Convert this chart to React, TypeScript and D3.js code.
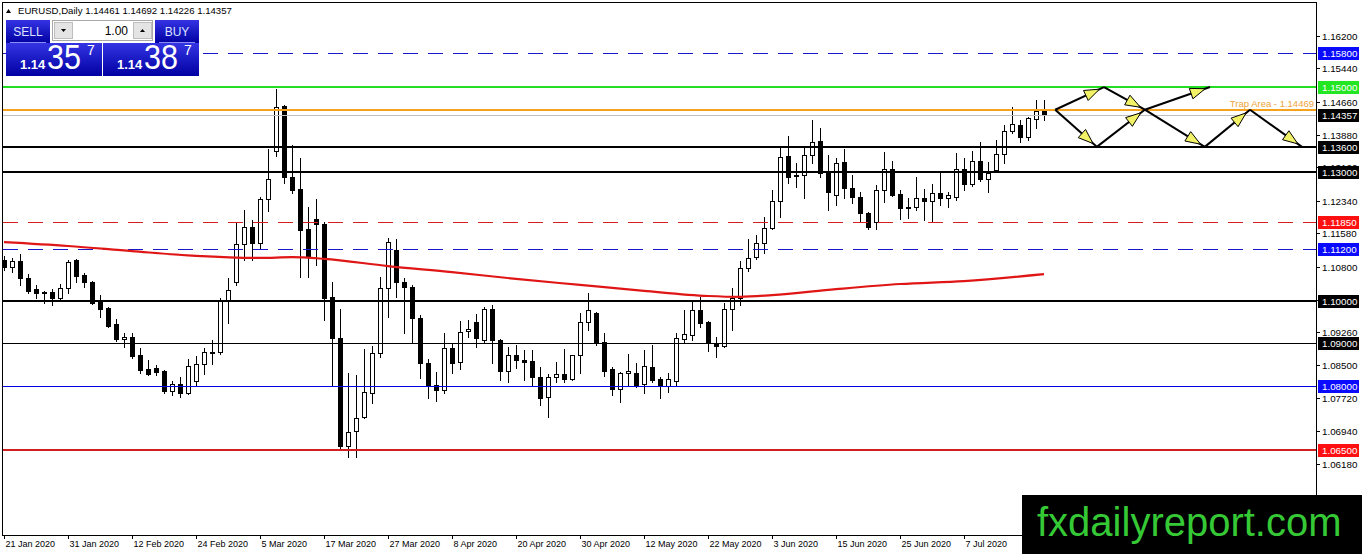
import React, { useEffect, useRef } from "react";
import * as d3 from "d3";

// EURUSD daily candles, 21 Jan 2020 .. 21 Jul 2020 (one entry per trading day)
const opens = [
  1.1095, 1.1079, 1.1093, 1.1053, 1.1027, 1.1020, 1.1020, 1.1006, 1.1030, 1.1095,
  1.1060, 1.1044, 1.0999, 1.0983, 1.0946, 1.0911, 1.0915, 1.0873, 1.0840, 1.0843,
  1.0836, 1.0789, 1.0805, 1.0784, 1.0812, 1.0852, 1.0878, 1.0880, 1.0999, 1.1044,
  1.1133, 1.1172, 1.1135, 1.1238, 1.1350, 1.1456, 1.1289, 1.1261, 1.1168, 1.1191,
  1.1179, 1.1009, 1.0913, 1.0660, 1.0695, 1.0728, 1.0784, 1.0878, 1.1030, 1.1119,
  1.1044, 1.1032, 1.0959, 1.0854, 1.0803, 1.0791, 1.0889, 1.0857, 1.0929, 1.0950,
  1.0908, 1.0981, 1.0908, 1.0836, 1.0873, 1.0861, 1.0859, 1.0822, 1.0775, 1.0822,
  1.0829, 1.0817, 1.0873, 1.0950, 1.0971, 1.0904, 1.0840, 1.0793, 1.0831, 1.0831,
  1.0805, 1.0845, 1.0817, 1.0800, 1.0812, 1.0911, 1.0920, 1.0978, 1.0950, 1.0899,
  1.0894, 1.0981, 1.1006, 1.1077, 1.1102, 1.1135, 1.1170, 1.1233, 1.1339, 1.1294,
  1.1294, 1.1341, 1.1374, 1.1301, 1.1247, 1.1325, 1.1264, 1.1243, 1.1205, 1.1184,
  1.1259, 1.1308, 1.1250, 1.1219, 1.1219, 1.1240, 1.1233, 1.1252, 1.1240, 1.1243,
  1.1308, 1.1273, 1.1327, 1.1285, 1.1306, 1.1343, 1.1397, 1.1411, 1.1383, 1.1425,
  1.14461,
];
const highs = [
  1.1105, 1.1100, 1.1109, 1.1062, 1.1037, 1.1023, 1.1027, 1.1039, 1.1095, 1.1098,
  1.1065, 1.1046, 1.1013, 1.0985, 1.0957, 1.0925, 1.0925, 1.0889, 1.0861, 1.0850,
  1.0838, 1.0812, 1.0822, 1.0864, 1.0871, 1.0889, 1.0908, 1.1006, 1.1053, 1.1184,
  1.1212, 1.1189, 1.1243, 1.1355, 1.1495, 1.1458, 1.1364, 1.1334, 1.1219, 1.1238,
  1.1184, 1.1044, 1.0981, 1.0831, 1.0826, 1.0887, 1.0894, 1.1055, 1.1147, 1.1144,
  1.1053, 1.1037, 1.0967, 1.0864, 1.0833, 1.0924, 1.0901, 1.0953, 1.0955, 1.0969,
  1.0985, 1.0990, 1.0911, 1.0892, 1.0896, 1.0885, 1.0885, 1.0845, 1.0829, 1.0857,
  1.0887, 1.0873, 1.0971, 1.1018, 1.0974, 1.0924, 1.0845, 1.0833, 1.0875, 1.0854,
  1.0885, 1.0896, 1.0822, 1.0831, 1.0924, 1.0978, 1.0999, 1.1009, 1.0953, 1.0915,
  1.0995, 1.1030, 1.1093, 1.1144, 1.1154, 1.1196, 1.1259, 1.1360, 1.1385, 1.1322,
  1.1360, 1.1423, 1.1404, 1.1341, 1.1334, 1.1355, 1.1294, 1.1254, 1.1208, 1.1271,
  1.1348, 1.1327, 1.1259, 1.1240, 1.1289, 1.1261, 1.1273, 1.1299, 1.1254, 1.1346,
  1.1334, 1.1350, 1.1371, 1.1325, 1.1376, 1.1411, 1.1453, 1.1423, 1.1430, 1.1470,
  1.14692,
];
const lows = [
  1.1072, 1.1067, 1.1037, 1.1018, 1.1006, 1.0995, 1.0990, 1.1004, 1.1018, 1.1044,
  1.1032, 1.0992, 1.0962, 1.0939, 1.0906, 1.0892, 1.0866, 1.0831, 1.0826, 1.0826,
  1.0784, 1.0779, 1.0775, 1.0782, 1.0803, 1.0829, 1.0852, 1.0875, 1.0948, 1.1037,
  1.1095, 1.1095, 1.1123, 1.1210, 1.1339, 1.1275, 1.1252, 1.1055, 1.1055, 1.1084,
  1.0955, 1.0800, 1.0653, 1.0634, 1.0634, 1.0725, 1.0761, 1.0868, 1.0962, 1.1009,
  1.0924, 1.0901, 1.0819, 1.0772, 1.0765, 1.0784, 1.0831, 1.0840, 1.0915, 1.0892,
  1.0901, 1.0854, 1.0815, 1.0810, 1.0843, 1.0815, 1.0803, 1.0756, 1.0728, 1.0810,
  1.0810, 1.0815, 1.0831, 1.0932, 1.0896, 1.0824, 1.0779, 1.0763, 1.0803, 1.0798,
  1.0784, 1.0810, 1.0772, 1.0786, 1.0800, 1.0901, 1.0908, 1.0939, 1.0882, 1.0868,
  1.0892, 1.0932, 1.0990, 1.1070, 1.1098, 1.1112, 1.1168, 1.1196, 1.1275, 1.1266,
  1.1240, 1.1322, 1.1289, 1.1212, 1.1224, 1.1240, 1.1229, 1.1186, 1.1168, 1.1168,
  1.1231, 1.1245, 1.1191, 1.1193, 1.1212, 1.1189, 1.1184, 1.1224, 1.1219, 1.1236,
  1.1259, 1.1268, 1.1280, 1.1254, 1.1301, 1.1322, 1.1392, 1.1371, 1.1376, 1.1404,
  1.14226,
];
const closes = [
  1.1079, 1.1093, 1.1053, 1.1023, 1.1018, 1.1018, 1.1006, 1.1030, 1.1091, 1.1058,
  1.1044, 1.0995, 1.0981, 1.0941, 1.0911, 1.0915, 1.0871, 1.0838, 1.0829, 1.0833,
  1.0789, 1.0805, 1.0784, 1.0847, 1.0852, 1.0880, 1.0880, 1.0999, 1.1025, 1.1133,
  1.1172, 1.1135, 1.1238, 1.1285, 1.1453, 1.1289, 1.1259, 1.1165, 1.1102, 1.1179,
  1.1006, 1.0913, 1.0660, 1.0693, 1.0725, 1.0786, 1.0878, 1.1030, 1.1137, 1.1044,
  1.1032, 1.0959, 1.0854, 1.0800, 1.0791, 1.0889, 1.0854, 1.0927, 1.0934, 1.0913,
  1.0981, 1.0908, 1.0836, 1.0873, 1.0861, 1.0857, 1.0822, 1.0772, 1.0822, 1.0829,
  1.0817, 1.0873, 1.0950, 1.0978, 1.0904, 1.0836, 1.0793, 1.0831, 1.0836, 1.0803,
  1.0847, 1.0815, 1.0800, 1.0817, 1.0913, 1.0922, 1.0978, 1.0948, 1.0901, 1.0894,
  1.0981, 1.1006, 1.1077, 1.1100, 1.1135, 1.1170, 1.1233, 1.1336, 1.1289, 1.1292,
  1.1341, 1.1371, 1.1299, 1.1254, 1.1322, 1.1264, 1.1243, 1.1205, 1.1172, 1.1259,
  1.1308, 1.1247, 1.1217, 1.1217, 1.1240, 1.1233, 1.1252, 1.1240, 1.1247, 1.1308,
  1.1273, 1.1327, 1.1285, 1.1299, 1.1343, 1.1397, 1.1413, 1.1383, 1.1428, 1.1444,
  1.14357,
];

// moving average read at some bars
const maBars = [0, 8, 16, 24, 32, 36, 40, 48, 56, 64, 72, 80, 88, 92, 96, 104, 112, 120, 130];
const maValues = [
  1.1137, 1.1128, 1.1116, 1.1105, 1.1100, 1.1102, 1.1098, 1.1081, 1.1067, 1.1051,
  1.1037, 1.1023, 1.1011, 1.1009, 1.1013, 1.1027, 1.1039, 1.1046, 1.1062,
];

const dateTicks = [
  "21 Jan 2020", "31 Jan 2020", "12 Feb 2020", "24 Feb 2020", "5 Mar 2020", "17 Mar 2020",
  "27 Mar 2020", "8 Apr 2020", "20 Apr 2020", "30 Apr 2020", "12 May 2020", "22 May 2020",
  "3 Jun 2020", "15 Jun 2020", "25 Jun 2020", "7 Jul 2020",
];
const priceTicks = [
  1.162, 1.1544, 1.1466, 1.1388, 1.1312, 1.1234, 1.1158, 1.108, 1.1002, 1.0926,
  1.085, 1.0772, 1.0694, 1.0618, 1.054,
];

const levelPrices = [1.158, 1.15, 1.136, 1.13, 1.1185, 1.112, 1.1, 1.09, 1.08, 1.065];
const trapPrice = 1.14469;

// hand drawn scenario arrows (bar index, price)
const waveBars = [131.4, 137.5, 142.6, 150.75, 136.6, 150.1, 155.75, 162.25];
const wavePrices = [1.14469, 1.15, 1.14469, 1.15, 1.136, 1.136, 1.14469, 1.136];
const waveLegs = [[0, 1], [1, 2], [2, 3], [0, 4], [4, 2], [2, 5], [5, 6], [6, 7]];

const levelStyle: Record<number, { stroke: string; width: number; dash?: string; box: string }> = {
  1.158: { stroke: "#1818c8", width: 1, dash: "15,10", box: "#0a0aff" },
  1.15: { stroke: "#22dd22", width: 2, box: "#22e622" },
  1.136: { stroke: "#000", width: 2, box: "#000" },
  1.13: { stroke: "#000", width: 2, box: "#000" },
  1.1185: { stroke: "#d42020", width: 1, dash: "15,10", box: "#ff1010" },
  1.112: { stroke: "#1818c8", width: 1, dash: "15,10", box: "#0a0aff" },
  1.1: { stroke: "#000", width: 2, box: "#000" },
  1.09: { stroke: "#000", width: 1, box: "#000" },
  1.08: { stroke: "#0000e0", width: 1, box: "#0a0aff" },
  1.065: { stroke: "#d02020", width: 2, box: "#ff1010" },
};

const W = 1362;
const H = 554;
const L = 3;
const R = 1316;
const T = 2;
const B = 535;
const FONT = "'Liberation Sans', Arial, sans-serif";

const App = () => {
  const ref = useRef(null);

  useEffect(() => {
    if (!ref.current) return;
    const svg = d3.select(ref.current);
    svg.selectAll("*").remove();

    const x = d3.scaleLinear().domain([0, 164]).range([4, R]);
    const y = d3.scaleLinear().domain([1.0454, 1.1699]).range([B - 1, T]);
    const px = (v: number) => Math.round(v) + 0.5;

    const defs = svg.append("defs");
    defs.append("clipPath").attr("id", "plot")
      .append("rect").attr("x", L).attr("y", T).attr("width", R - L).attr("height", B - T);
    const grad = defs.append("linearGradient").attr("id", "btn")
      .attr("x1", 0).attr("y1", 0).attr("x2", 0).attr("y2", 1);
    grad.append("stop").attr("offset", "0%").attr("stop-color", "#3434e4");
    grad.append("stop").attr("offset", "100%").attr("stop-color", "#0000a2");

    svg.append("rect").attr("width", W).attr("height", H).attr("fill", "#fff");

    const plot = svg.append("g").attr("clip-path", "url(#plot)");

    // candles
    const idx = d3.range(opens.length);
    const cg = plot.append("g").attr("shape-rendering", "crispEdges")
      .selectAll("g").data(idx).join("g");
    cg.append("line")
      .attr("x1", (i) => px(x(i))).attr("x2", (i) => px(x(i)))
      .attr("y1", (i) => Math.round(y(highs[i]))).attr("y2", (i) => Math.round(y(lows[i])) + 1)
      .attr("stroke", "#000");
    cg.append("rect")
      .attr("x", (i) => px(x(i)) - 2)
      .attr("width", 4)
      .attr("y", (i) => px(y(Math.max(opens[i], closes[i]))))
      .attr("height", (i) => Math.max(1, Math.round(Math.abs(y(opens[i]) - y(closes[i])))))
      .attr("fill", (i) => (closes[i] >= opens[i] ? "#fff" : "#000"))
      .attr("stroke", "#000");

    // horizontal levels
    levelPrices.forEach((p) => {
      const s = levelStyle[p];
      const yy = s.width === 2 ? Math.round(y(p)) : px(y(p));
      plot.append("line")
        .attr("x1", L).attr("x2", R).attr("y1", yy).attr("y2", yy)
        .attr("stroke", s.stroke).attr("stroke-width", s.width)
        .attr("stroke-dasharray", s.dash || null)
        .attr("shape-rendering", "crispEdges");
    });
    // bid line
    const bid = closes[closes.length - 1];
    plot.append("line")
      .attr("x1", L).attr("x2", R).attr("y1", px(y(bid))).attr("y2", px(y(bid)))
      .attr("stroke", "#c0c0c0").attr("shape-rendering", "crispEdges");
    // trap line
    plot.append("line")
      .attr("x1", L).attr("x2", R).attr("y1", Math.round(y(trapPrice))).attr("y2", Math.round(y(trapPrice)))
      .attr("stroke", "#f5a21e").attr("stroke-width", 2).attr("shape-rendering", "crispEdges");

    // moving average
    const ma = d3.line<number>()
      .x((i) => x(maBars[i]))
      .y((i) => y(maValues[i]))
      .curve(d3.curveMonotoneX);
    plot.append("path")
      .attr("d", ma(d3.range(maBars.length)))
      .attr("fill", "none").attr("stroke", "#e01616").attr("stroke-width", 2.2);

    // scenario arrows
    const ag = plot.append("g");
    waveLegs.forEach(([a, b]) => {
      const x1 = x(waveBars[a]), y1 = y(wavePrices[a]);
      const x2 = x(waveBars[b]), y2 = y(wavePrices[b]);
      ag.append("line").attr("x1", x1).attr("y1", y1).attr("x2", x2).attr("y2", y2)
        .attr("stroke", "#000").attr("stroke-width", 2);
    });
    waveLegs.forEach(([a, b]) => {
      const x1 = x(waveBars[a]), y1 = y(wavePrices[a]);
      const x2 = x(waveBars[b]), y2 = y(wavePrices[b]);
      const len = Math.hypot(x2 - x1, y2 - y1);
      const ux = (x2 - x1) / len, uy = (y2 - y1) / len;
      const tx = x2 - ux * 5, ty = y2 - uy * 5;
      const bx = tx - ux * 15, by = ty - uy * 15;
      const pts = [
        [tx, ty],
        [bx - uy * 5.5, by + ux * 5.5],
        [bx + uy * 5.5, by - ux * 5.5],
      ];
      ag.append("path")
        .attr("d", "M" + pts.map((p) => p.join(",")).join("L") + "Z")
        .attr("fill", "#f2f266").attr("stroke", "#000").attr("stroke-width", 1)
        .attr("stroke-linejoin", "round");
    });

    plot.append("text")
      .attr("x", R - 2).attr("y", Math.round(y(trapPrice)) - 3)
      .attr("text-anchor", "end").attr("font-family", FONT).attr("font-size", 9.5)
      .attr("fill", "#f0a43a")
      .text("Trap Area - " + trapPrice.toFixed(5));

    // frame
    svg.append("rect")
      .attr("x", L - 0.5).attr("y", T + 0.5).attr("width", R - L + 0.5).attr("height", B - T)
      .attr("fill", "none").attr("stroke", "#000").attr("shape-rendering", "crispEdges");

    // price axis
    const ya = svg.append("g").attr("font-family", FONT).attr("font-size", 9.8);
    priceTicks.forEach((p) => {
      const yy = px(y(p));
      ya.append("line").attr("x1", R).attr("x2", R + 4).attr("y1", yy).attr("y2", yy)
        .attr("stroke", "#000").attr("shape-rendering", "crispEdges");
      ya.append("text").attr("x", R + 6).attr("y", yy).attr("dy", "0.35em")
        .attr("fill", "#000").text(p.toFixed(5));
    });
    const boxes = levelPrices.map((p) => ({ p, c: levelStyle[p].box }))
      .concat([{ p: bid, c: "#000" }]);
    boxes.forEach(({ p, c }) => {
      const yy = Math.round(y(p));
      ya.append("rect").attr("x", R + 2).attr("y", yy - 6).attr("width", 41).attr("height", 13)
        .attr("fill", c);
      ya.append("text").attr("x", R + 6).attr("y", yy + 0.5).attr("dy", "0.35em")
        .attr("fill", "#fff").text(p.toFixed(5));
    });

    // time axis
    const xa = svg.append("g").attr("font-family", FONT).attr("font-size", 9);
    dateTicks.forEach((d, k) => {
      const xx = px(x(k * 8));
      xa.append("line").attr("x1", xx).attr("x2", xx).attr("y1", B).attr("y2", B + 4)
        .attr("stroke", "#000").attr("shape-rendering", "crispEdges");
      xa.append("text").attr("x", xx + 1).attr("y", B + 12).attr("fill", "#000").text(d);
    });

    // header
    const hd = svg.append("g").attr("font-family", FONT).attr("fill", "#000");
    hd.append("path").attr("d", "M6,13L8.5,9L11,13Z").attr("fill", "#000");
    hd.append("text").attr("x", 18).attr("y", 14).attr("font-size", 9.6)
      .text("EURUSD,Daily  " + [opens, highs, lows, closes].map((a) => a[a.length - 1].toFixed(5)).join(" "));

    // one click trading panel
    const pn = svg.append("g").attr("font-family", FONT);
    const sellPx = bid;
    const buyPx = bid + 0.0003;
    const panel = (x0: number, topX: number, label: string, price: number) => {
      pn.append("rect").attr("x", topX).attr("y", 20).attr("width", 44).attr("height", 23).attr("fill", "url(#btn)");
      pn.append("rect").attr("x", x0).attr("y", 43).attr("width", 96).attr("height", 33).attr("fill", "url(#btn)");
      pn.append("line").attr("x1", topX + 4).attr("x2", topX + 40).attr("y1", 42.5).attr("y2", 42.5)
        .attr("stroke", "#8c8cf0");
      pn.append("text").attr("x", topX + 22).attr("y", 35.5).attr("text-anchor", "middle")
        .attr("font-size", 12).attr("fill", "#dde2ff").text(label);
      const s = price.toFixed(5);
      pn.append("text").attr("x", x0 + 14).attr("y", 69).attr("font-size", 13).attr("font-weight", "bold")
        .attr("fill", "#fff").text(s.slice(0, 4));
      pn.append("text").attr("x", x0 + 41).attr("y", 69).attr("font-size", 35)
        .attr("textLength", 34).attr("lengthAdjust", "spacingAndGlyphs")
        .attr("fill", "#fff").text(s.slice(4, 6));
      pn.append("text").attr("x", x0 + 81).attr("y", 55).attr("font-size", 14)
        .attr("fill", "#fff").text(s.slice(6));
    };
    panel(6, 6, "SELL", sellPx);
    panel(103, 155, "BUY", buyPx);
    pn.append("rect").attr("x", 52.5).attr("y", 20.5).attr("width", 100).attr("height", 20)
      .attr("fill", "#fff").attr("stroke", "#a8a8a8");
    [54, 133].forEach((bx, k) => {
      pn.append("rect").attr("x", bx + 0.5).attr("y", 22.5).attr("width", 18).attr("height", 16)
        .attr("fill", "#e4e4e4").attr("stroke", "#bdbdbd");
      pn.append("path")
        .attr("d", k === 0 ? `M${bx + 7},29L${bx + 12},29L${bx + 9.5},32Z` : `M${bx + 7},32L${bx + 12},32L${bx + 9.5},29Z`)
        .attr("fill", "#000");
    });
    pn.append("text").attr("x", 128).attr("y", 35).attr("text-anchor", "end")
      .attr("font-size", 12).attr("fill", "#000").text("1.00");

    // watermark
    svg.append("rect").attr("x", 1022).attr("y", 495).attr("width", W - 1022).attr("height", H - 495)
      .attr("fill", "#000");
    svg.append("text").attr("x", 1037).attr("y", 536).attr("font-family", FONT)
      .attr("font-size", 40).attr("fill", "#36c936").text("fxdailyreport.com");
  }, []);

  return (
    <div style={{ position: "absolute", left: 0, top: 0 }}>
      <svg ref={ref} width={W} height={H} style={{ display: "block" }} />
    </div>
  );
};

export default App;
